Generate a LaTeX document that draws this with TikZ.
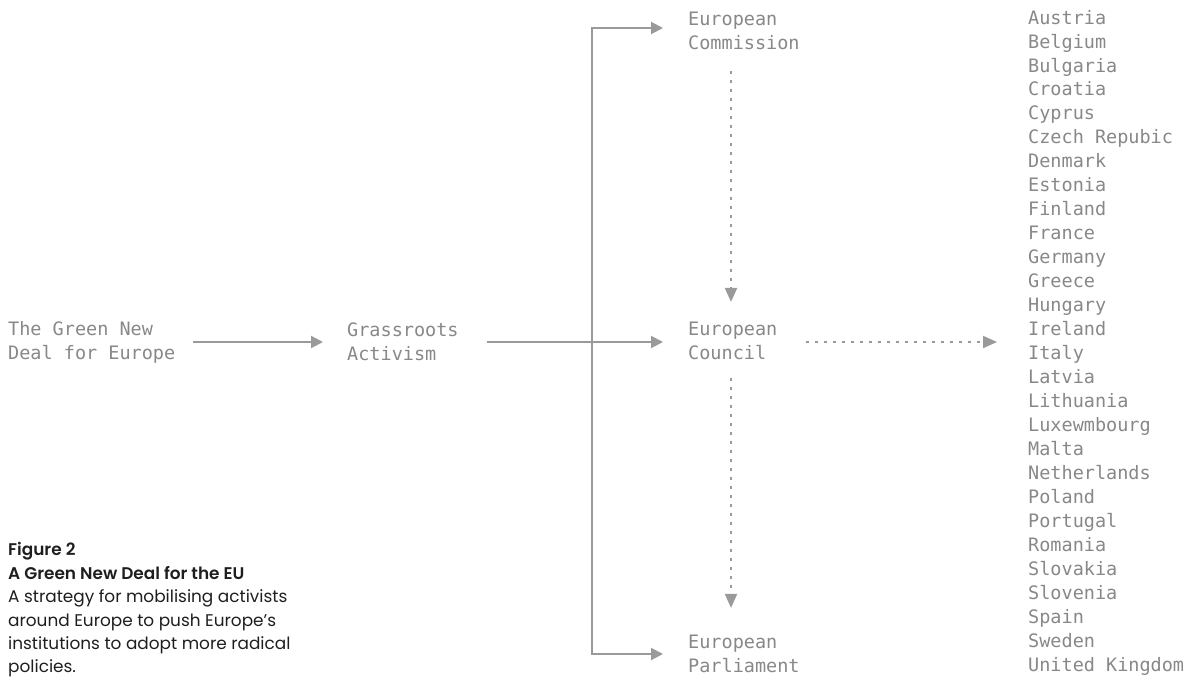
\documentclass[tikz,border=0pt]{standalone}
\usepackage{fontspec}
\setmainfont{Poppins}[BoldFont={Poppins SemiBold}]
\setmonofont{DejaVu Sans Mono}
\usetikzlibrary{arrows.meta,calc}
\definecolor{txtgray}{HTML}{888888}
\definecolor{lngray}{HTML}{9A9A9A}
\definecolor{capcol}{HTML}{1E1E1E}
\begin{document}
\begin{tikzpicture}[x=1pt,y=-1pt,
  lbl/.style={anchor=west,inner sep=0pt,align=left,text=txtgray,
    font=\ttfamily\fontsize{18.5}{24}\selectfont},
  arr/.style={draw=lngray,line width=2pt,-{Triangle[length=12pt,width=12pt]}},
  dotarr/.style={draw=lngray,line width=2pt,dash pattern=on 3pt off 6pt,-{Triangle[length=14pt,width=12pt]}},
  plain/.style={draw=lngray,line width=2pt}]
\useasboundingbox (0,0) rectangle (1188,677);
\node[lbl] (gnd) at (8,342) {The Green New\\Deal for Europe};
\node[lbl] (grass) at (347,342) {Grassroots\\Activism};
\node[lbl] (comm) at (688,31) {European\\Commission};
\node[lbl] (council) at (688,341) {European\\Council};
\node[lbl] (parl) at (688,654) {European\\Parliament};
\node[lbl,font=\ttfamily\fontsize{18.5}{23.96}\selectfont] (countries) at (1028,342.5) {Austria\\Belgium\\Bulgaria\\Croatia\\Cyprus\\Czech Repubic\\Denmark\\Estonia\\Finland\\France\\Germany\\Greece\\Hungary\\Ireland\\Italy\\Latvia\\Lithuania\\Luxewmbourg\\Malta\\Netherlands\\Poland\\Portugal\\Romania\\Slovakia\\Slovenia\\Spain\\Sweden\\United Kingdom};
\node[anchor=west,inner sep=0pt,align=left,text=capcol,font=\fontsize{16.9}{23.4}\selectfont] (cap) at (8,610)
  {\textbf{Figure 2}\\\textbf{A Green New Deal for the EU}\\A strategy for mobilising activists\\around Europe to push Europe’s\\institutions to adopt more radical\\policies.};
\coordinate (bus) at (592,342);
\coordinate (xv) at (731,0);
\coordinate (cmid) at (0,342);
\draw[arr] (gnd.east |- cmid) ++(18,0) -- ($(grass.west |- cmid)+(-24,0)$);
\draw[arr] ($(grass.east |- cmid)+(28,0)$) -- ($(council.west |- cmid)+(-25,0)$);
\draw[arr] (bus) |- ($(comm.west)+(-25,-3)$);
\draw[arr] (bus) |- ($(parl.west)+(-25,0)$);
\draw[dotarr] ($(comm.south -| xv)+(0,21)$) -- ($(council.north -| xv)+(0,-20)$);
\draw[dotarr] ($(council.south -| xv)+(0,18)$) -- ($(parl.north -| xv)+(0,-27)$);
\draw[dotarr] ($(council.east |- cmid)+(28,0)$) -- ($(countries.west |- cmid)+(-31,0)$);
\end{tikzpicture}
\end{document}
